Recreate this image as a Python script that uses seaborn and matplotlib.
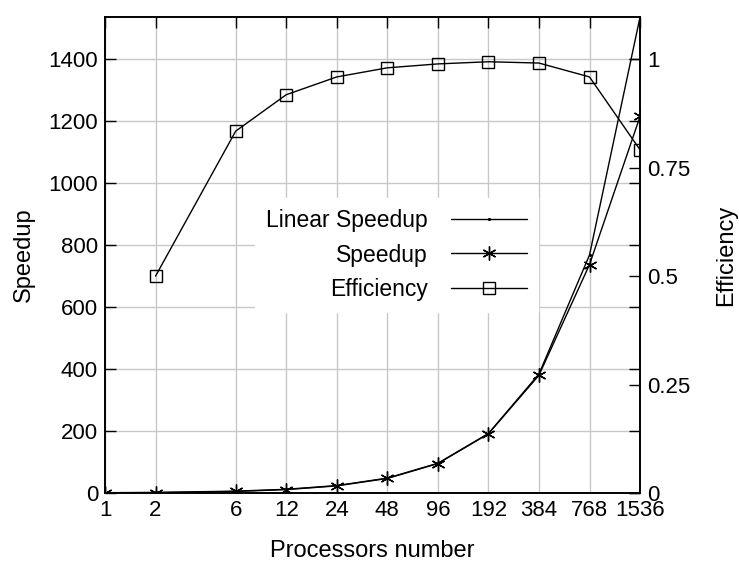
import numpy as np
import pandas as pd
import matplotlib
matplotlib.use("Agg")
import matplotlib.pyplot as plt
import seaborn as sns

procs = [1, 2, 6, 12, 24, 48, 96, 192, 384, 768, 1536]
linear_speedup = [1, 2, 6, 12, 24, 48, 96, 192, 384, 768, 1536]
speedup = [0.5, 1, 5, 11, 23, 47, 95, 191, 380, 737, 1215]
eff_procs = [2, 6, 12, 24, 48, 96, 192, 384, 768, 1536]
efficiency = [0.50, 0.834, 0.918, 0.959, 0.980, 0.989, 0.994, 0.991, 0.959, 0.791]

sns.set_style("white")
plt.rcParams['font.family'] = ['Liberation Sans', 'DejaVu Sans']
plt.rcParams.update({'font.size': 16, 'xtick.labelsize': 16, 'ytick.labelsize': 16,
                     'axes.labelsize': 17, 'legend.fontsize': 16.5,
                     'text.color': 'black', 'axes.labelcolor': 'black',
                     'xtick.color': 'black', 'ytick.color': 'black'})

df = pd.DataFrame({"procs": procs, "linear": linear_speedup, "speedup": speedup})
df_eff = pd.DataFrame({"procs": eff_procs, "eff": efficiency})

fig = plt.figure(figsize=(7.39, 5.61), dpi=100)
ax = fig.add_axes([0.1421, 0.1212, 0.7240, 0.8485])
ax2 = ax.twinx()

sns.lineplot(data=df, x="procs", y="linear", ax=ax, color="black", lw=1,
             marker=".", markersize=3, markeredgecolor="black",
             label="Linear Speedup", legend=False)
sns.lineplot(data=df, x="procs", y="speedup", ax=ax, color="black", lw=1,
             marker=(6, 2, 0), markersize=10, markeredgewidth=1,
             markeredgecolor="black", label="Speedup", legend=False)
sns.lineplot(data=df_eff, x="procs", y="eff", ax=ax2, color="black", lw=1,
             marker="s", markersize=9, markerfacecolor="none",
             markeredgecolor="black", markeredgewidth=1,
             label="Efficiency", legend=False)

ax.set_xscale("log", base=2)
ymax = 1536
ax.set_xlim(1, 1536)
ax.set_ylim(0, ymax)
ax2.set_ylim(0, ymax / 1400)

ax.set_xticks(procs)
ax.set_xticklabels([str(p) for p in procs])
ax.xaxis.set_minor_locator(matplotlib.ticker.NullLocator())
ax.set_yticks(np.arange(0, 1401, 200))
ax2.set_yticks([0, 0.25, 0.5, 0.75, 1])
ax2.set_yticklabels(["0", "0.25", "0.5", "0.75", "1"])

ax.grid(True, color="#c8c8c8", lw=1)
ax.set_axisbelow(True)
ax.tick_params(direction="in", length=8, top=True, right=True, width=1, pad=5)
ax2.tick_params(direction="in", length=8, width=1, pad=5)

for a in (ax, ax2):
    for s in a.spines.values():
        s.set_color("black")
        s.set_linewidth(1.2)

ax.set_xlabel("Processors number", labelpad=14)
ax.set_ylabel("Speedup", labelpad=10)
ax2.set_ylabel("Efficiency", labelpad=18)

h1, l1 = ax.get_legend_handles_labels()
h2, l2 = ax2.get_legend_handles_labels()
leg = ax2.legend(h1 + h2, l1 + l2, loc="center", bbox_to_anchor=(0.545, 0.5),
                 markerfirst=False, frameon=True, handlelength=3.3,
                 handletextpad=1.0, borderpad=0.5, labelspacing=0.5,
                 fancybox=False)
leg.get_frame().set_edgecolor("white")
leg.get_frame().set_facecolor("white")
leg.get_frame().set_alpha(1)
for t in leg.get_texts():
    t.set_ha("right")

fig.savefig("out.png", dpi=100)
